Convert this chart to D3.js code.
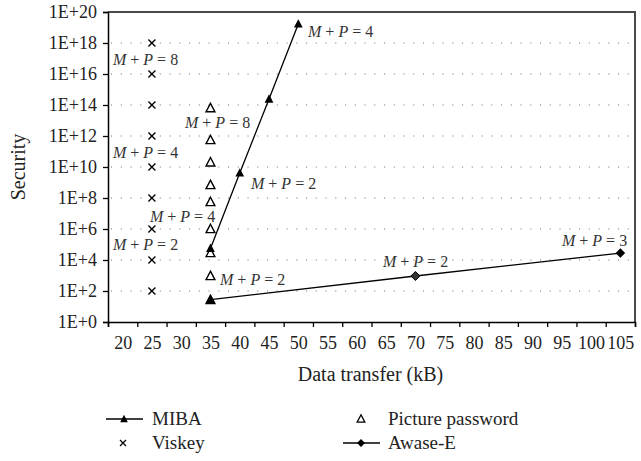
<!DOCTYPE html>
<html><head><meta charset="utf-8">
<script src="https://cdn.jsdelivr.net/npm/d3@7"></script>
</head>
<body style="margin:0;padding:0;background:#fff">
<svg id="chart" width="641" height="461" style="display:block"></svg>
<script>
// ---- data ----
const categories = [20,25,30,35,40,45,50,55,60,65,70,75,80,85,90,95,100,105];
const yTickExponents = [0,2,4,6,8,10,12,14,16,18,20];

const mibaX = [35,40,45,50];
const mibaY = [5.6e4, 4.1e9, 2.4e14, 1.7e19];

const viskeyX = [25,25,25,25,25,25,25,25,25];
const viskeyY = [1e2,1e4,1e6,1e8,1e10,1e12,1e14,1e16,1e18];

const pictureX = [35,35,35,35,35,35,35,35,35];
const pictureY = [26, 930, 2.8e4, 1e6, 5.5e7, 6.9e8, 2e10, 5.5e11, 6.3e13];

const awaseX = [35,70,105];
const awaseY = [28, 930, 2.8e4];

// annotation text anchors in data units (kB, log10 security)
const annotX = [18.35, 18.35, 18.35, 30.65, 24.67, 41.92, 51.66, 36.63, 64.46, 95.03];
const annotLog = [16.58, 10.58, 4.65, 12.52, 6.45, 8.58, 18.39, 2.39, 3.55, 4.90];
const annotN = [8, 4, 2, 8, 4, 2, 4, 2, 2, 3];

const legendLabels = ["MIBA","Viskey","Picture password","Awase-E"];

// ---- layout ----
const FONT = "'Liberation Serif', 'Times New Roman', serif";
const svg = d3.select("#chart");
const L = 108, R = 635, T = 12, B = 322;
const step = 5;
const x = d3.scaleLinear().domain([categories[0]-step/2, categories[categories.length-1]+step/2]).range([L, R]);
const y = d3.scaleLog().domain([1, 1e20]).range([B, T]);

// grid (dotted)
svg.append("g").selectAll("line").data(yTickExponents.filter(e => e>0 && e<20)).join("line")
  .attr("x1", L+3).attr("x2", R).attr("y1", e => y(Math.pow(10,e))).attr("y2", e => y(Math.pow(10,e)))
  .attr("stroke", "#777").attr("stroke-width", 1.1).attr("stroke-dasharray", "1.1 8.65");

// top and right borders
svg.append("path").attr("d", `M${L},${T}H${R}V${B}`).attr("fill","none").attr("stroke","#4a4a4a").attr("stroke-width",2);

// y axis
const yAxis = d3.axisLeft(y).tickValues(yTickExponents.map(e => Math.pow(10,e)))
  .tickFormat(d => "1E+" + Math.round(Math.log10(d))).tickSize(5).tickPadding(6);
const gy = svg.append("g").attr("transform", `translate(${L},0)`).call(yAxis);
gy.select(".domain").attr("stroke","#000").attr("stroke-width",1.5);
gy.selectAll(".tick line").attr("stroke","#000").attr("stroke-width",1.3);
gy.selectAll("text").attr("font-size", 18).attr("fill","#222");

// x axis: tick marks at category boundaries, labels at centers
const bounds = categories.map(c => c - step/2).concat([categories[categories.length-1] + step/2]);
const gx = svg.append("g").attr("transform", `translate(0,${B})`)
  .call(d3.axisBottom(x).tickValues(bounds).tickFormat("").tickSize(5));
gx.select(".domain").attr("stroke","#000").attr("stroke-width",1.5);
gx.selectAll(".tick line").attr("stroke","#000").attr("stroke-width",1.3);
const gxl = svg.append("g").attr("transform", `translate(0,${B})`)
  .call(d3.axisBottom(x).tickValues(categories).tickFormat(d => d).tickSize(0).tickPadding(14));
gxl.select(".domain").remove();
gxl.selectAll("text").attr("font-size", 18).attr("fill","#222");

// axis titles
svg.append("text").attr("x", (L+R)/2 - 1).attr("y", 381).attr("text-anchor","middle")
  .attr("font-size", 20).attr("fill","#222").text("Data transfer (kB)");
svg.append("text").attr("transform", `translate(25,${(T+B)/2}) rotate(-90)`).attr("text-anchor","middle")
  .attr("font-size", 20).attr("fill","#222").text("Security");

// markers
function triUp(s){ return `M0,${-s*0.6}L${s*0.55},${s*0.45}L${-s*0.55},${s*0.45}Z`; }
function cross(s){ const h=s/2; return `M${-h},${-h}L${h},${h}M${-h},${h}L${h},${-h}`; }
function diamond(s){ const h=s/2; return `M0,${-h}L${h},0L0,${h}L${-h},0Z`; }

const line = d3.line().x(d => x(d[0])).y(d => y(d[1]));

const miba = mibaX.map((v,i) => [v, mibaY[i]]);
svg.append("path").attr("d", line(miba)).attr("fill","none").attr("stroke","#000").attr("stroke-width",1.3);

const awase = awaseX.map((v,i) => [v, awaseY[i]]);
svg.append("path").attr("d", line(awase)).attr("fill","none").attr("stroke","#000").attr("stroke-width",1.3);

svg.append("g").selectAll("path").data(viskeyX.map((v,i)=>[v,viskeyY[i]])).join("path")
  .attr("transform", d => `translate(${x(d[0])},${y(d[1])})`).attr("d", cross(7))
  .attr("stroke","#000").attr("stroke-width",1.3).attr("fill","none");

svg.append("g").selectAll("path").data(pictureX.map((v,i)=>[v,pictureY[i]])).join("path")
  .attr("transform", d => `translate(${x(d[0])},${y(d[1])})`).attr("d", triUp(8))
  .attr("stroke","#000").attr("stroke-width",1.4).attr("fill","#fff");

svg.append("g").selectAll("path").data(miba).join("path")
  .attr("transform", d => `translate(${x(d[0])},${y(d[1])})`).attr("d", triUp(8))
  .attr("fill","#000");

svg.append("g").selectAll("path").data(awase).join("path")
  .attr("transform", d => `translate(${x(d[0])},${y(d[1])})`)
  .attr("d", (d,i) => i === 0 ? triUp(8) : diamond(9))
  .attr("fill", (d,i) => i === 1 ? "#333" : "#000")
  .attr("stroke", "#000").attr("stroke-width", (d,i) => i===1 ? 1 : 0.5);

// annotations "M + P = n"
const ann = svg.append("g").attr("font-size", 16).attr("fill","#333");
annotX.forEach((ax, i) => {
  const t = ann.append("text").attr("x", x(ax)).attr("y", y(Math.pow(10, annotLog[i])));
  t.append("tspan").attr("font-style","italic").text("M");
  t.append("tspan").text("\u00a0+\u00a0");
  t.append("tspan").attr("font-style","italic").text("P");
  t.append("tspan").text("\u00a0=\u00a0" + annotN[i]);
});

// legend
const lg = svg.append("g").attr("font-size", 19).attr("fill","#222");
lg.append("line").attr("x1",106).attr("x2",143).attr("y1",419).attr("y2",419).attr("stroke","#000").attr("stroke-width",1.3);
lg.append("path").attr("transform","translate(124,419)").attr("d", triUp(7)).attr("fill","#000");
lg.append("text").attr("x",152).attr("y",425).text(legendLabels[0]);
lg.append("path").attr("transform","translate(123,443)").attr("d", cross(6)).attr("stroke","#000").attr("stroke-width",1.2);
lg.append("text").attr("x",152).attr("y",449).text(legendLabels[1]);
lg.append("path").attr("transform","translate(361,419)").attr("d", triUp(7)).attr("fill","#fff").attr("stroke","#000").attr("stroke-width",1.3);
lg.append("text").attr("x",388).attr("y",425).text(legendLabels[2]);
lg.append("line").attr("x1",343).attr("x2",380).attr("y1",443).attr("y2",443).attr("stroke","#000").attr("stroke-width",1.3);
lg.append("path").attr("transform","translate(361,443)").attr("d", diamond(8)).attr("fill","#000");
lg.append("text").attr("x",388).attr("y",449).text(legendLabels[3]);

// apply the serif font to every text element (inline style wins over everything)
svg.selectAll("g").attr("font-family", null);
svg.selectAll("text").style("font-family", FONT, "important");
</script>
</body></html>
